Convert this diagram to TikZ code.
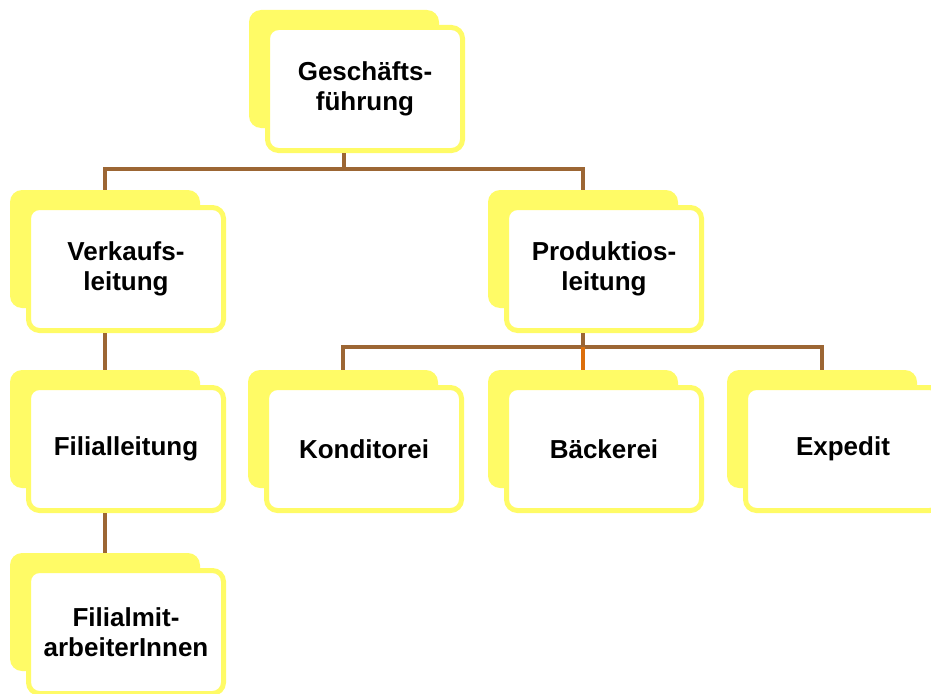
\documentclass[tikz,border=0pt]{standalone}
\usepackage{fontspec}
\setmainfont{Liberation Sans}
\definecolor{boxyellow}{HTML}{FFFB66}
\definecolor{linkbrown}{HTML}{9C6634}
\definecolor{linkorange}{HTML}{DC6E0A}
\tikzset{
  backbox/.style={fill=boxyellow, draw=none, rounded corners=12pt,
    minimum width=190pt, minimum height=118pt, inner sep=0pt},
  frontbox/.style={fill=white, draw=boxyellow, line width=5pt, rounded corners=11pt,
    minimum width=195pt, minimum height=123pt, inner sep=0pt, align=center,
    font=\fontsize{26}{30}\selectfont\bfseries},
  conn/.style={draw=linkbrown, line width=4pt},
  connhi/.style={draw=linkorange, line width=4pt}
}
% \unit{name}{left}{top}{label}: shaded back card plus framed front card
\newcommand{\unit}[4]{%
  \node[backbox] (#1b) at (#2+95,#3+59) {};
  \node[frontbox] (#1) at (#2+116,#3+79) {#4};
}
\begin{document}
\begin{tikzpicture}[x=1pt,y=-1pt]
  \useasboundingbox (0,0) rectangle (931,693);
  \clip (0,0) rectangle (931,693);
  \unit{gf}{249}{10}{Geschäfts-\\führung}
  \unit{vl}{10}{190}{Verkaufs-\\leitung}
  \unit{pl}{488}{190}{Produktios-\\leitung}
  \unit{fl}{10}{370}{Filialleitung}
  \unit{ko}{248}{370}{Konditorei}
  \unit{ba}{488}{370}{Bäckerei}
  \unit{ex}{727}{370}{Expedit}
  \unit{fm}{10}{553}{Filialmit-\\arbeiterInnen}
  % connectors
  \draw[conn] (gfb.center |- gf.south) -- ++(0,16) -| (vlb.north);
  \draw[conn] (gfb.center |- gf.south) -- ++(0,16) -| (plb.north);
  \draw[conn] (plb.center |- pl.south) -- ++(0,14) -| (kob.north);
  \draw[conn] (plb.center |- pl.south) -- ++(0,14) -| (exb.north);
  \draw[connhi] (plb.center |- pl.south) ++(0,14) -- (bab.north);
  \draw[conn] (vlb.center |- vl.south) -- (flb.north);
  \draw[conn] (flb.center |- fl.south) -- (fmb.north);
\end{tikzpicture}
\end{document}
